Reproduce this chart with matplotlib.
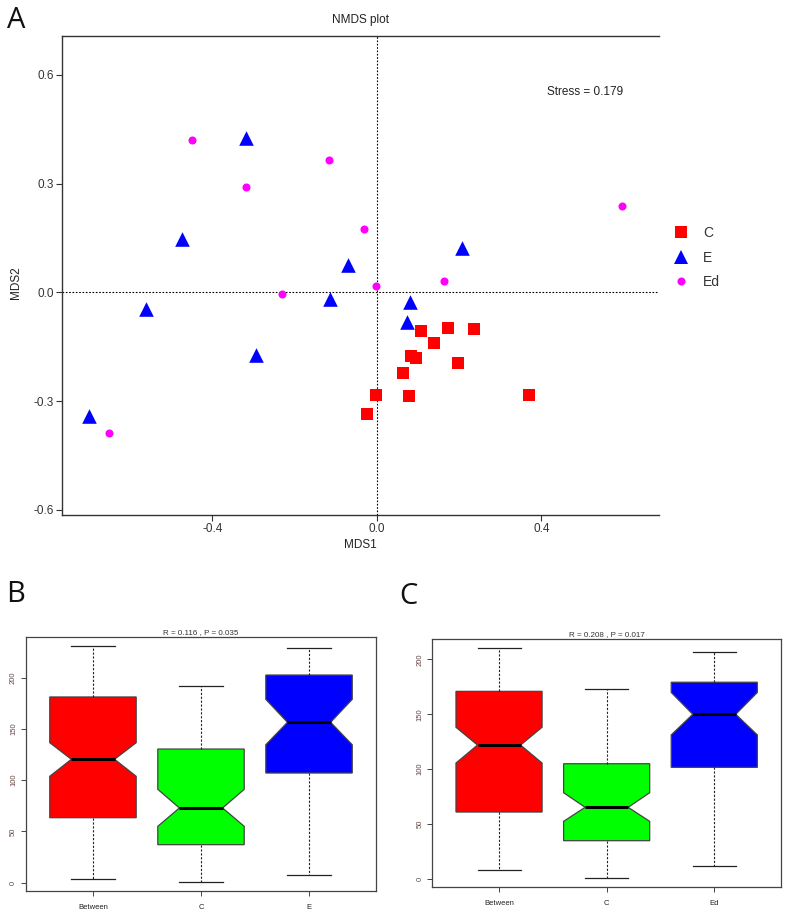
import matplotlib
matplotlib.use("Agg")
import matplotlib.pyplot as plt
from matplotlib.lines import Line2D

plt.rcParams['font.family'] = ['Liberation Sans', 'DejaVu Sans']

# ---------------- Data: NMDS ----------------
c_x = [-0.002, -0.024, 0.063, 0.107, 0.173, 0.237, 0.138, 0.082, 0.094, 0.196, 0.078, 0.369]
c_y = [-0.283, -0.336, -0.222, -0.107, -0.098, -0.102, -0.141, -0.176, -0.180, -0.194, -0.285, -0.283]

e_x = [-0.318, -0.473, -0.070, -0.113, -0.562, -0.295, -0.699, 0.207, 0.080, 0.073]
e_y = [0.427, 0.148, 0.076, -0.017, -0.046, -0.174, -0.341, 0.121, -0.027, -0.082]

ed_x = [-0.449, -0.318, -0.117, -0.032, -0.232, -0.002, 0.164, 0.596, -0.652]
ed_y = [0.420, 0.291, 0.366, 0.175, -0.004, 0.017, 0.032, 0.239, -0.388]

stress_text = "Stress = 0.179"
nmds_xticks = [-0.4, 0.0, 0.4]
nmds_yticks = [-0.6, -0.3, 0.0, 0.3, 0.6]

# ---------------- Data: ANOSIM boxplots ----------------
b_labels = ["Between", "C", "E"]
b_whislo = [3.6, 0.7, 7.2]
b_q1 = [63.4, 37.1, 107.0]
b_med = [120.4, 72.9, 156.5]
b_q3 = [181.2, 130.4, 202.6]
b_whishi = [231.2, 191.9, 228.7]
b_cilo = [103.8, 55.0, 134.6]
b_cihi = [136.6, 91.1, 178.9]
b_title = "R = 0.116 , P = 0.035"

c_labels = ["Between", "C", "Ed"]
c_whislo = [7.9, 0.9, 12.1]
c_q1 = [61.0, 34.9, 101.7]
c_med = [122.0, 65.3, 150.0]
c_q3 = [170.9, 105.0, 179.2]
c_whishi = [210.1, 173.0, 207.0]
c_cilo = [105.6, 52.5, 131.2]
c_cihi = [138.2, 78.6, 169.9]
c_title = "R = 0.208 , P = 0.017"

box_colors = ["#ff0000", "#00ff00", "#0000ff"]
box_yticks = [0, 50, 100, 150, 200]

W, H = 791, 917
fig = plt.figure(figsize=(W / 100, H / 100), dpi=100)


def fax(l, t, r, b):
    return fig.add_axes([l / W, 1 - b / H, (r - l) / W, (b - t) / H])


# ---------------- Panel A ----------------
ax = fax(62.3, 36, 658.7, 515)
ax.set_xlim(-0.765, 0.685)
ax.set_ylim(-0.614, 0.707)
ax.axvline(0, color='black', lw=0.8, ls=(0, (1.5, 1.5)), zorder=1)
ax.axhline(0, color='black', lw=0.8, ls=(0, (1.5, 1.5)), zorder=1)
ax.scatter(c_x, c_y, marker='s', s=8.5 ** 2, color='#ff0000', lw=0, zorder=3, label='C')
ax.scatter(e_x, e_y, marker='^', s=10.5 ** 2, color='#0000ff', lw=0, zorder=3, label='E')
ax.scatter(ed_x, ed_y, marker='o', s=5.8 ** 2, color='#ff00ff', lw=0, zorder=3, label='Ed')
ax.spines['right'].set_visible(False)
for s in ['left', 'top', 'bottom']:
    ax.spines[s].set_color('#333333')
    ax.spines[s].set_linewidth(1.0)
ax.set_xticks(nmds_xticks)
ax.set_xticklabels(["-0.4", "0.0", "0.4"])
ax.set_yticks(nmds_yticks)
ax.set_yticklabels(["-0.6", "-0.3", "0.0", "0.3", "0.6"])
ax.tick_params(direction='out', length=4, width=0.8, colors='#333333', labelsize=8.5,
               labelcolor='#333333', pad=2)
ax.set_xlabel("MDS1", fontsize=8.5, color='#222222', labelpad=3)
ax.set_ylabel("MDS2", fontsize=8.5, color='#222222')
ax.yaxis.set_label_coords(-0.068, 0.485)
ax.set_title("NMDS plot", fontsize=8.5, color='#222222', pad=9)
ax.text(0.877, 0.884, stress_text, transform=ax.transAxes, fontsize=8.5,
        color='#222222', ha='center', va='center')
handles = [
    Line2D([], [], marker='s', color='#ff0000', ls='none', markersize=8.5, markeredgewidth=0),
    Line2D([], [], marker='^', color='#0000ff', ls='none', markersize=10.5, markeredgewidth=0),
    Line2D([], [], marker='o', color='#ff00ff', ls='none', markersize=5.8, markeredgewidth=0),
]
ax.legend(handles, ['C', 'E', 'Ed'], loc='center left', bbox_to_anchor=(1.005, 0.537),
          frameon=False, fontsize=10, handletextpad=0.6, labelspacing=0.75,
          labelcolor='#333333', borderaxespad=0)

fig.text(7 / W, 1 - 21 / H, "A", fontsize=21, family=['Open Sans', 'DejaVu Sans'],
         color='#111111', va='center', ha='left')


# ---------------- Boxplot panels ----------------
def boxpanel(rect, labels, whislo, q1, med, q3, whishi, cilo, cihi, title, ylim):
    axb = fax(*rect)
    stats = []
    for i in range(3):
        stats.append(dict(label=labels[i], whislo=whislo[i], q1=q1[i], med=med[i],
                          q3=q3[i], whishi=whishi[i], cilo=cilo[i], cihi=cihi[i],
                          fliers=[]))
    bp = axb.bxp(stats, positions=[1, 2, 3], widths=0.8, shownotches=True,
                 patch_artist=True, showfliers=False,
                 boxprops=dict(edgecolor='#444444', linewidth=0.9),
                 whiskerprops=dict(color='#222222', linewidth=0.8, linestyle=(0, (2, 1.5))),
                 capprops=dict(color='#222222', linewidth=0.9),
                 medianprops=dict(color='black', linewidth=2.2))
    for patch, col in zip(bp['boxes'], box_colors):
        patch.set_facecolor(col)
    axb.set_xlim(0.38, 3.62)
    axb.set_ylim(*ylim)
    axb.set_yticks(box_yticks)
    axb.set_yticklabels([str(v) for v in box_yticks], rotation=90, va='center')
    axb.tick_params(axis='y', direction='out', length=3.5, width=0.7, colors='#444444',
                    labelsize=5.5, labelcolor='#664444', pad=3)
    axb.tick_params(axis='x', direction='out', length=3.5, width=0.7, colors='#444444',
                    labelsize=5.5, labelcolor='#222222', pad=6)
    for s in axb.spines.values():
        s.set_color('#444444')
        s.set_linewidth(0.9)
    axb.set_title(title, fontsize=5.8, color='#333333', pad=2)
    return axb


boxpanel((26, 636.7, 376, 890.7), b_labels, b_whislo, b_q1, b_med, b_q3, b_whishi,
         b_cilo, b_cihi, b_title, (-7.8, 240))
fig.text(6 / W, 1 - 594 / H, "B", fontsize=21, family=['Open Sans', 'DejaVu Sans'],
         color='#111111', va='center', ha='left')

boxpanel((432.3, 639.3, 781, 886.7), c_labels, c_whislo, c_q1, c_med, c_q3, c_whishi,
         c_cilo, c_cihi, c_title, (-7.0, 218.3))
fig.text(399 / W, 1 - 596 / H, "C", fontsize=21, family=['Open Sans', 'DejaVu Sans'],
         color='#111111', va='center', ha='left')

fig.savefig("out.png", dpi=100)
